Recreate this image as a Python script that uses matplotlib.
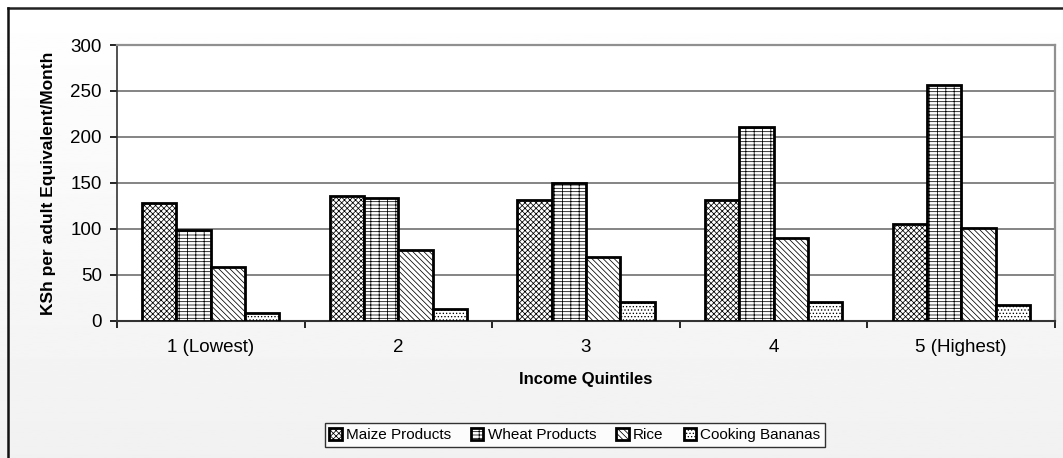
import numpy as np
import matplotlib
matplotlib.use('Agg')
import matplotlib.pyplot as plt
from matplotlib.lines import Line2D

plt.rcParams['font.family'] = ['Liberation Sans', 'DejaVu Sans']
plt.rcParams['hatch.linewidth'] = 0.55

# data
quintiles = ['1 (Lowest)', '2', '3', '4', '5 (Highest)']
maize = [128, 136, 131, 131, 105]
wheat = [99, 133, 150, 211, 256]
rice = [58, 77, 69, 90, 101]
bananas = [8, 13, 20, 20, 17]

series = [('Maize Products', maize, 'xxxxxx'),
          ('Wheat Products', wheat, '-----||'),
          ('Rice', rice, '\\\\\\\\\\\\'),
          ('Cooking Bananas', bananas, '.....')]

fig = plt.figure(figsize=(10.63, 4.58), dpi=100)

# soft gradient background like the original chart area
bg = fig.add_axes([0, 0, 1, 1], zorder=-10)
grad = np.linspace(1.0, 0.945, 256).reshape(-1, 1)
bg.imshow(grad, aspect='auto', cmap='gray', vmin=0, vmax=1, extent=(0, 1, 0, 1))
bg.set_axis_off()

# outer frame (top and left edges visible)
fig.add_artist(Line2D([8 / 1063, 1], [1 - 7.5 / 458] * 2, color='#222222', lw=1.8))
fig.add_artist(Line2D([8 / 1063] * 2, [0, 1 - 7.5 / 458], color='#111111', lw=1.8))

ax = fig.add_axes([117 / 1063, 1 - 320.7 / 458, (1055 - 117) / 1063, (320.7 - 45) / 458])
ax.set_facecolor('white')

x = np.arange(len(quintiles))
w = 0.183
for i, (name, vals, hatch) in enumerate(series):
    ax.bar(x + (i - 1.5) * w, vals, w, label=name, color='white',
           edgecolor='black', linewidth=2.0, hatch=hatch, zorder=3)

ax.set_xlim(-0.5, 4.5)
ax.set_ylim(0, 300)
ax.set_yticks(range(0, 301, 50))
ax.yaxis.grid(True, color='#707070', linewidth=1.2, zorder=0)
ax.set_axisbelow(True)

ax.set_xticks(x)
ax.set_xticklabels(quintiles, fontsize=13.5)
ax.set_xticks(np.arange(-0.5, 5, 1), minor=True)
ax.tick_params(axis='x', which='major', length=0, pad=13)
ax.tick_params(axis='x', which='minor', length=5, width=1.2, direction='out')
ax.tick_params(axis='y', length=5, width=1.2, labelsize=13.5, pad=6)

for s in ['top', 'right']:
    ax.spines[s].set_color('#909090')
    ax.spines[s].set_linewidth(1.6)
ax.spines['left'].set_color('#333333')
ax.spines['bottom'].set_color('#333333')
ax.spines['left'].set_linewidth(1.2)
ax.spines['bottom'].set_linewidth(1.5)

ax.set_xlabel('Income Quintiles', fontsize=12, fontweight='bold', labelpad=12)
ax.set_ylabel('KSh per adult Equivalent/Month', fontsize=12.5, fontweight='bold', labelpad=10)

leg = fig.legend(loc='center', bbox_to_anchor=(575 / 1063, 1 - 435 / 458), ncol=4,
                 fontsize=11, frameon=True, fancybox=False, edgecolor='black',
                 handlelength=0.8, handleheight=0.8, handletextpad=0.3,
                 columnspacing=1.3, borderpad=0.3)
leg.get_frame().set_linewidth(1.0)

fig.savefig('out.png', dpi=100)
